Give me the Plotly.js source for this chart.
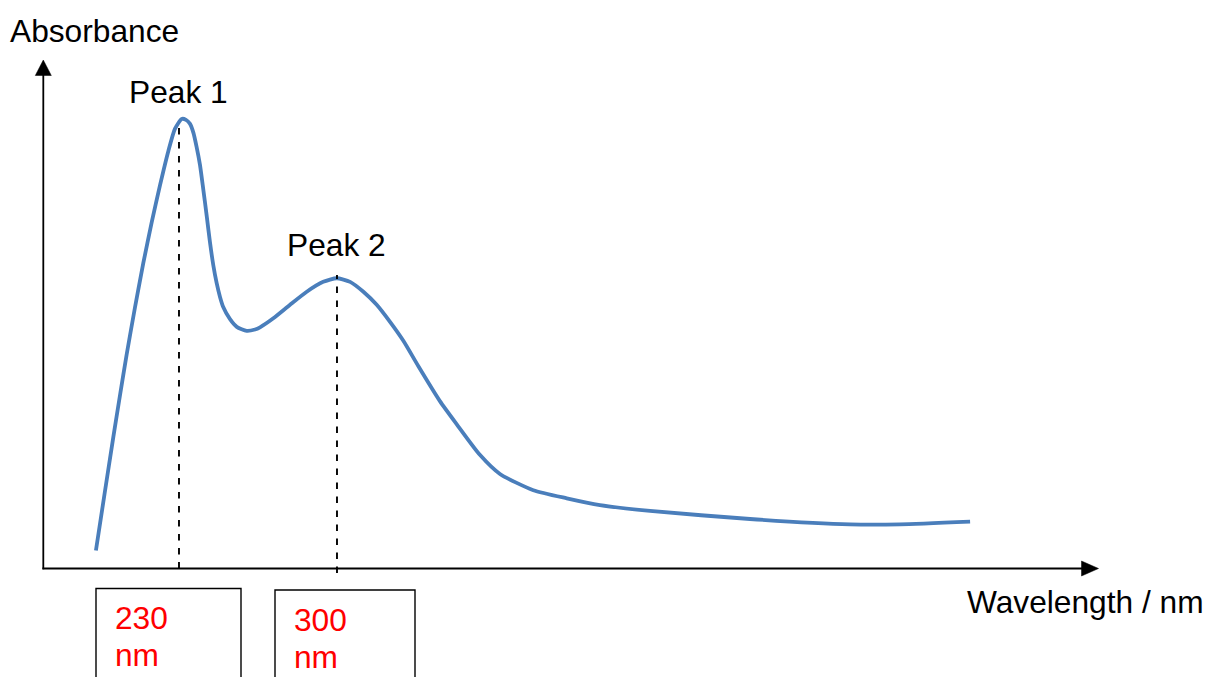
<!DOCTYPE html>
<html>
<head>
<meta charset="utf-8">
<script src="https://cdn.plot.ly/plotly-3.0.1.min.js"></script>
<style>html,body{margin:0;padding:0;background:#fff;}#chart{width:1208px;height:677px;}</style>
</head>
<body>
<div id="chart"></div>
<script>
// Spectrum data (wavelength in nm, absorbance in arbitrary units)
var wavelength = [193.2, 197.0, 200.9, 203.9, 206.8, 210.5, 214.2, 217.9, 221.6, 225.3, 228.2, 231.2, 233.1, 234.9, 236.4, 237.8, 239.3, 240.8, 242.3, 243.7, 245.2, 246.7, 248.2, 249.6, 252.6, 255.6, 260.0, 263.7, 265.9, 271.8, 279.2, 286.6, 293.9, 299.9, 305.8, 311.7, 317.6, 323.5, 329.4, 336.0, 345.6, 353.0, 363.4, 372.2, 387.0, 401.8, 416.5, 438.7, 483.0, 527.3, 549.4, 580.5];
var absorbance = [0.040, 0.165, 0.292, 0.386, 0.475, 0.580, 0.679, 0.769, 0.852, 0.928, 0.977, 0.999, 0.997, 0.988, 0.968, 0.937, 0.897, 0.841, 0.783, 0.726, 0.674, 0.634, 0.603, 0.581, 0.554, 0.537, 0.528, 0.531, 0.536, 0.556, 0.586, 0.615, 0.637, 0.645, 0.637, 0.615, 0.586, 0.548, 0.506, 0.450, 0.372, 0.321, 0.252, 0.210, 0.174, 0.156, 0.141, 0.128, 0.110, 0.098, 0.098, 0.104];

var peakNames = ["Peak 1", "Peak 2"];
var peakWavelength = [230, 300];
var peakAbsorbance = [0.99, 0.652];
var peakTickLabels = ["230", "300"];
var peakTickUnit = "nm";

var xTitle = "Wavelength / nm";
var yTitle = "Absorbance";

var W = 1208, H = 677;
function px(x) { return x / W; }
function py(y) { return 1 - y / H; }
var FONT = "Liberation Sans, Arial, sans-serif";
var FS = 31.7;

var shapes = [];
// axes
shapes.push({type: "line", xref: "paper", yref: "paper", x0: px(43.3), x1: px(43.3), y0: py(569.3), y1: py(74), line: {color: "#000", width: 1.8}});
shapes.push({type: "line", xref: "paper", yref: "paper", x0: px(42.4), x1: px(1083), y0: py(568.5), y1: py(568.5), line: {color: "#000", width: 1.8}});
// arrowheads
shapes.push({type: "path", xref: "paper", yref: "paper",
  path: "M " + px(43.3) + "," + py(60) + " L " + px(51.3) + "," + py(75.5) + " L " + px(35.3) + "," + py(75.5) + " Z",
  fillcolor: "#000", line: {color: "#000", width: 0.5}});
shapes.push({type: "path", xref: "paper", yref: "paper",
  path: "M " + px(1098.5) + "," + py(568.5) + " L " + px(1081.5) + "," + py(561) + " L " + px(1081.5) + "," + py(576) + " Z",
  fillcolor: "#000", line: {color: "#000", width: 0.5}});

// dashed peak lines
var dashBottom = [0, -0.01];
for (var i = 0; i < peakWavelength.length; i++) {
  shapes.push({type: "line", xref: "x", yref: "y", x0: peakWavelength[i], x1: peakWavelength[i], y0: dashBottom[i], y1: peakAbsorbance[i],
    line: {color: "#000", width: 1.9, dash: "6.5px,7.5px"}});
}

// label boxes
var boxes = [[96, 241, 588.5], [275, 415, 590]];
boxes.forEach(function (b) {
  shapes.push({type: "path", xref: "paper", yref: "paper",
    path: "M " + px(b[0]) + "," + py(700) + " L " + px(b[0]) + "," + py(b[2]) + " L " + px(b[1]) + "," + py(b[2]) + " L " + px(b[1]) + "," + py(700),
    line: {color: "#000", width: 1.4}});
});

var annotations = [];
function txt(t, x, y, anchor, color) {
  annotations.push({text: t, xref: "paper", yref: "paper", x: px(x), y: py(y), xanchor: anchor, yanchor: "middle",
    showarrow: false, font: {family: FONT, size: FS, color: color || "#000"}});
}
txt(yTitle, 8, 31, "left");
txt(xTitle, 965, 602, "left");
txt(peakNames[0], 178, 92, "center");
txt(peakNames[1], 336.5, 245, "center");
var tickX = [113, 291.5];
var tickY = [618, 619.5];
for (var j = 0; j < peakTickLabels.length; j++) {
  txt(peakTickLabels[j], tickX[j], tickY[j], "left", "#FF0000");
  txt(peakTickUnit, tickX[j], tickY[j] + 37, "left", "#FF0000");
}

var trace = {
  x: wavelength, y: absorbance, type: "scatter", mode: "lines",
  line: {color: "#4A7EBB", width: 3.8, shape: "spline", smoothing: 0.6},
  hoverinfo: "skip"
};

var layout = {
  width: W, height: H,
  margin: {l: 0, r: 0, t: 0, b: 0, pad: 0},
  paper_bgcolor: "#fff", plot_bgcolor: "#fff",
  showlegend: false,
  xaxis: {visible: false, range: [150.70, 685.9], fixedrange: true},
  yaxis: {visible: false, range: [-0.2411, 1.2633], fixedrange: true},
  shapes: shapes,
  annotations: annotations
};

Plotly.newPlot("chart", [trace], layout, {staticPlot: true, displayModeBar: false});
</script>
</body>
</html>
